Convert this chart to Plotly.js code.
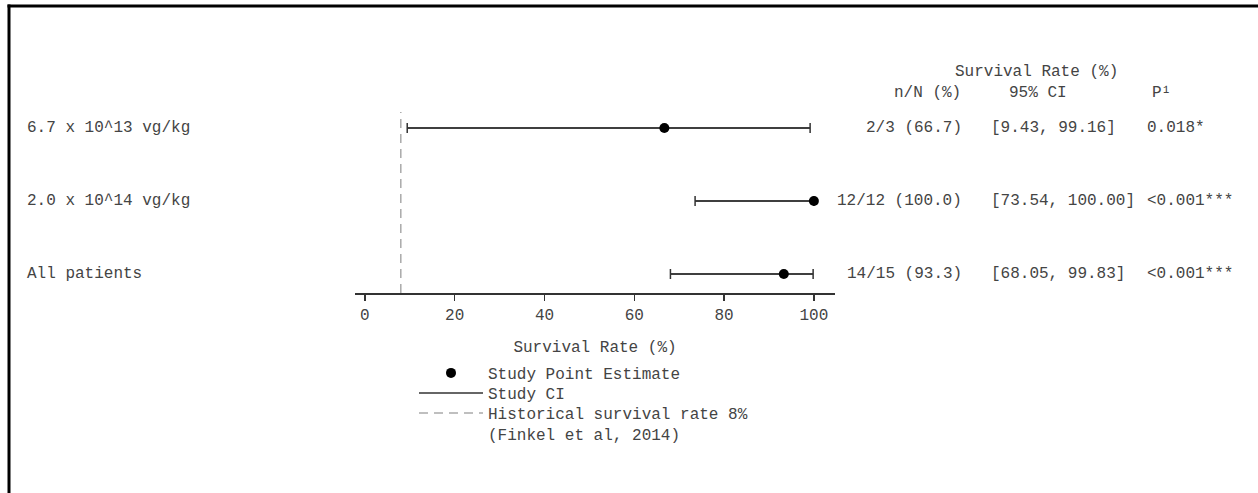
<!DOCTYPE html>
<html>
<head>
<meta charset="utf-8">
<script src="https://cdn.plot.ly/plotly-3.0.1.min.js"></script>
<style>
  html, body { margin: 0; padding: 0; background: #ffffff; }
  #chart { width: 1258px; height: 493px; }
</style>
</head>
<body>
<div id="chart"></div>
<script>
// ---- data ----
const categories = ['6.7 x 10^13 vg/kg', '2.0 x 10^14 vg/kg', 'All patients'];
const rowPos = [3, 2, 1];
const estimate = [66.7, 100.0, 93.3];
const ciLow = [9.43, 73.54, 68.05];
const ciHigh = [99.16, 100.00, 99.83];
const nNText = ['2/3 (66.7)', '12/12 (100.0)', '14/15 (93.3)'];
const ciText = ['[9.43, 99.16]', '[73.54, 100.00]', '[68.05, 99.83]'];
const pText = ['0.018*', '<0.001***', '<0.001***'];
const historicalRate = 8;
const xTickVals = [0, 20, 40, 60, 80, 100];
const xTickText = ['0', '20', '40', '60', '80', '100'];
const headerTop = 'Survival Rate (%)';
const headerCols = ['n/N (%)', '95% CI', 'P¹'];
const xTitle = 'Survival Rate (%)';
const legendNames = ['Study Point Estimate', 'Study CI', 'Historical survival rate 8%<br>(Finkel et al, 2014)'];

// ---- layout helpers ----
const W = 1258, H = 493;
const M = {l: 355, r: 423, t: 112, b: 200};
const plotW = W - M.l - M.r, plotH = H - M.t - M.b;
const px2x = p => (p - M.l) / plotW;
const px2y = p => (H - M.b - p) / plotH;
const xRange = [-2.2, 104.7];
const yRange = [0.74, 3.22];

const FONT = 'Liberation Mono, Courier New, monospace';
const TXT = '#444444';
const INK = '#333333';

// CI segments built from the data arrays
const ciX = [], ciY = [];
for (let i = 0; i < rowPos.length; i++) {
  ciX.push(ciLow[i], ciHigh[i], null);
  ciY.push(rowPos[i], rowPos[i], null);
}

const histTrace = {
  type: 'scatter', mode: 'lines', name: legendNames[2], legend: 'legend3',
  x: [historicalRate, historicalRate], y: yRange,
  line: {color: '#aaaaaa', width: 1.5, dash: '9px,6px'},
  hoverinfo: 'skip', cliponaxis: false
};
const ciTrace = {
  type: 'scatter', mode: 'lines', name: legendNames[1], legend: 'legend2',
  x: ciX, y: ciY,
  line: {color: INK, width: 1.5},
  hoverinfo: 'skip', cliponaxis: false
};
const pointTrace = {
  type: 'scatter', mode: 'markers', name: legendNames[0], legend: 'legend',
  x: estimate, y: rowPos,
  marker: {color: '#000000', size: 10},
  error_x: {
    type: 'data', symmetric: false,
    array: estimate.map((v, i) => ciHigh[i] - v),
    arrayminus: estimate.map((v, i) => v - ciLow[i]),
    color: INK, thickness: 1.5, width: 5
  },
  hoverinfo: 'skip', cliponaxis: false
};
const data = [histTrace, ciTrace, pointTrace];

const annotations = [];
const colAnn = (text, xpx, yref, y, anchor) => ({
  text: text, xref: 'paper', x: px2x(xpx), yref: yref, y: y,
  xanchor: anchor, yanchor: 'middle', showarrow: false,
  font: {family: FONT, size: 16, color: TXT}
});
for (let i = 0; i < categories.length; i++) {
  annotations.push(colAnn(categories[i], 25, 'y', rowPos[i], 'left'));
  annotations.push(colAnn(nNText[i], 964, 'y', rowPos[i], 'right'));
  annotations.push(colAnn(ciText[i], 989, 'y', rowPos[i], 'left'));
  annotations.push(colAnn(pText[i], 1145, 'y', rowPos[i], 'left'));
}
annotations.push(colAnn(headerTop, 1036, 'paper', px2y(72), 'center'));
annotations.push(colAnn(headerCols[0], 927, 'paper', px2y(93), 'center'));
annotations.push(colAnn(headerCols[1], 1038, 'paper', px2y(93), 'center'));
annotations.push(colAnn(headerCols[2], 1161, 'paper', px2y(93), 'center'));

const shapes = [
  {type: 'line', xref: 'paper', yref: 'paper', x0: px2x(7.5), x1: px2x(W), y0: px2y(6), y1: px2y(6),
   line: {color: '#000000', width: 3}},
  {type: 'line', xref: 'paper', yref: 'paper', x0: px2x(9), x1: px2x(9), y0: px2y(4.5), y1: px2y(H),
   line: {color: '#000000', width: 3}}
];

const legendBase = (topPx) => ({
  x: px2x(414), y: px2y(topPx), xanchor: 'left', yanchor: 'top',
  bgcolor: 'rgba(0,0,0,0)', borderwidth: 0,
  font: {family: FONT, size: 16, color: TXT},
  itemwidth: 64, valign: 'top',
  itemclick: false, itemdoubleclick: false
});

const layout = {
  width: W, height: H,
  margin: {l: M.l, r: M.r, t: M.t, b: M.b, pad: 0, autoexpand: false},
  paper_bgcolor: '#ffffff', plot_bgcolor: '#ffffff',
  font: {family: FONT, size: 16, color: TXT},
  showlegend: true,
  legend: legendBase(356),
  legend2: legendBase(376),
  legend3: legendBase(396),
  xaxis: {
    range: xRange, fixedrange: true,
    showline: true, linecolor: INK, linewidth: 1.5,
    showgrid: false, zeroline: false,
    ticks: 'outside', ticklen: 6, tickwidth: 1.5, tickcolor: INK,
    tickvals: xTickVals, ticktext: xTickText,
    tickfont: {family: FONT, size: 16, color: TXT},
    title: {text: xTitle, font: {family: FONT, size: 16, color: TXT}, standoff: 17},
    automargin: false
  },
  yaxis: {
    range: yRange, fixedrange: true, visible: false,
    showgrid: false, zeroline: false
  },
  annotations: annotations,
  shapes: shapes
};

Plotly.newPlot('chart', data, layout, {displayModeBar: false, staticPlot: true});
</script>
</body>
</html>
